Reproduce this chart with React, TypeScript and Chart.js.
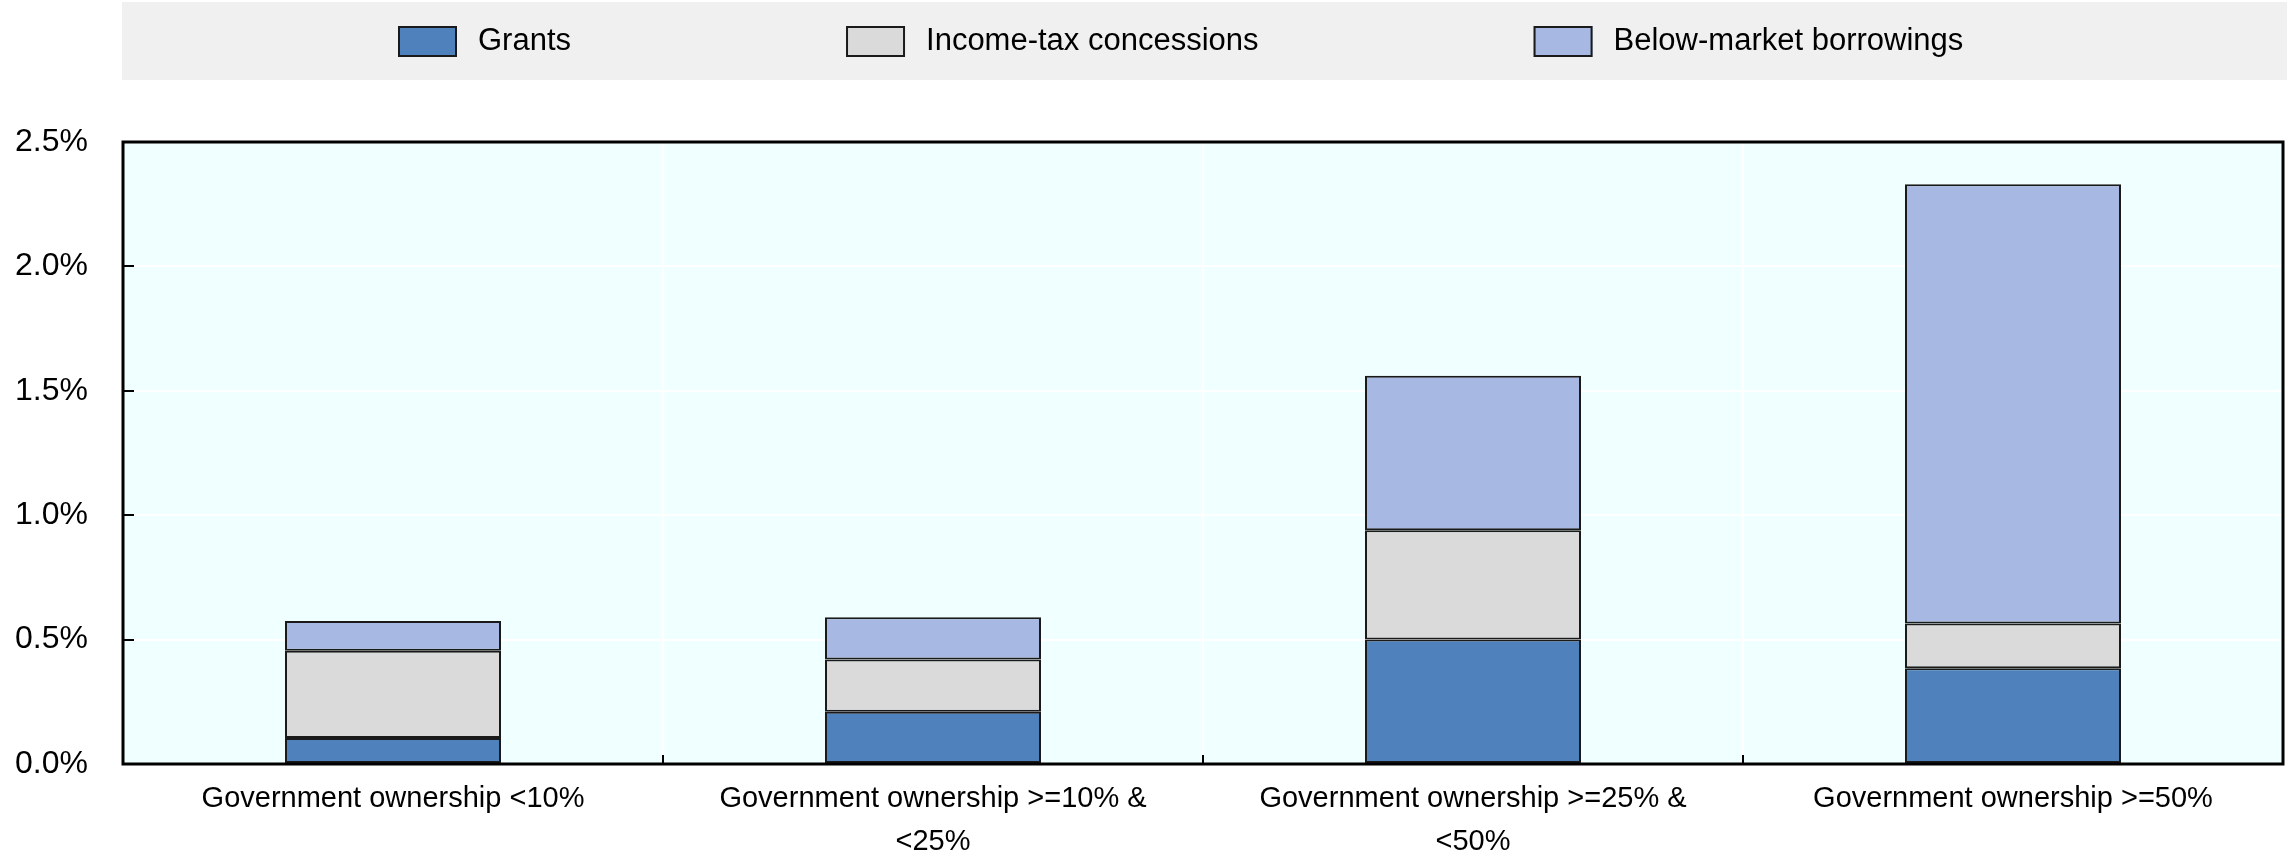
import React, { useEffect, useRef } from "react";
import { Chart, registerables } from "chart.js";

Chart.register(...registerables);

const CATEGORIES: string[][] = [
  ["Government ownership <10%"],
  ["Government ownership >=10% &", "<25%"],
  ["Government ownership >=25% &", "<50%"],
  ["Government ownership >=50%"],
];
const GRANTS = [0.105, 0.21, 0.5, 0.385];
const INCOME_TAX = [0.35, 0.21, 0.44, 0.18];
const BELOW_MARKET = [0.12, 0.17, 0.62, 1.765];
const SERIES_NAMES = ["Grants", "Income-tax concessions", "Below-market borrowings"];
const SERIES_COLORS = ["#4F81BD", "#DADADA", "#A7B9E2"];
const Y_MIN = 0;
const Y_MAX = 2.5;
const Y_STEP = 0.5;

const FONT_FAMILY = '"Liberation Sans", Arial, sans-serif';
const X_FONT_SIZE = 29;
const Y_FONT_SIZE = 32;
const LEGEND_FONT_SIZE = 31;

const bgPlugin = {
  id: "bgPlugin",
  beforeDraw(chart: any) {
    const { ctx, chartArea } = chart;
    ctx.save();
    ctx.fillStyle = "#F0FFFF";
    ctx.fillRect(chartArea.left, chartArea.top, chartArea.right - chartArea.left, chartArea.bottom - chartArea.top);
    ctx.restore();
  },
};

const framePlugin = {
  id: "framePlugin",
  afterDatasetsDraw(chart: any) {
    const { ctx, chartArea } = chart;
    const x = chart.scales.x;
    const y = chart.scales.y;
    ctx.save();
    ctx.strokeStyle = "#000";
    ctx.lineWidth = 3;
    ctx.strokeRect(chartArea.left, chartArea.top, chartArea.right - chartArea.left, chartArea.bottom - chartArea.top);
    ctx.lineWidth = 2;
    ctx.beginPath();
    y.ticks.forEach((t: any) => {
      if (t.value <= Y_MIN || t.value >= Y_MAX) return;
      const py = Math.round(y.getPixelForValue(t.value));
      ctx.moveTo(chartArea.left, py);
      ctx.lineTo(chartArea.left + 11, py);
    });
    for (let i = 0; i < CATEGORIES.length - 1; i++) {
      const px = Math.round((x.getPixelForValue(i) + x.getPixelForValue(i + 1)) / 2);
      ctx.moveTo(px, chartArea.bottom);
      ctx.lineTo(px, chartArea.bottom - 9);
    }
    ctx.stroke();
    ctx.restore();
  },
};

const legendPlugin = {
  id: "legendPlugin",
  afterDraw(chart: any) {
    const { ctx, chartArea } = chart;
    ctx.save();
    ctx.fillStyle = "#F0F0F0";
    ctx.fillRect(chartArea.left - 1, 2, chartArea.right - chartArea.left + 5, 78);
    ctx.font = `${LEGEND_FONT_SIZE}px ${FONT_FAMILY}`;
    ctx.textBaseline = "middle";
    ctx.textAlign = "left";
    let cx = 398;
    chart.data.datasets.forEach((ds: any) => {
      ctx.fillStyle = ds.backgroundColor;
      ctx.fillRect(cx, 26, 59, 31);
      ctx.strokeStyle = "#1a1a1a";
      ctx.lineWidth = 2;
      ctx.strokeRect(cx + 1, 27, 57, 29);
      ctx.fillStyle = "#000";
      ctx.fillText(ds.label, cx + 80, 41);
      const w = ctx.measureText(ds.label).width;
      cx += 59 + 21 + w + 275;
    });
    ctx.restore();
  },
};

export default function App() {
  const ref = useRef<HTMLCanvasElement | null>(null);
  useEffect(() => {
    if (!ref.current) return;
    const mk = (i: number, data: number[]) => ({
      label: SERIES_NAMES[i],
      data,
      backgroundColor: SERIES_COLORS[i],
      borderColor: "#1a1a1a",
      borderWidth: 2,
      borderSkipped: false,
      categoryPercentage: 0.4,
      barPercentage: 1.0,
    });
    const chart = new Chart(ref.current, {
      type: "bar",
      data: {
        labels: CATEGORIES,
        datasets: [mk(0, GRANTS), mk(1, INCOME_TAX), mk(2, BELOW_MARKET)],
      },
      options: {
        animation: false,
        responsive: false,
        devicePixelRatio: 1,
        layout: { padding: { top: 142, right: 12, left: 0, bottom: 0 } },
        plugins: { legend: { display: false }, tooltip: { enabled: false } },
        scales: {
          x: {
            stacked: true,
            grid: { color: "#FFFFFF", lineWidth: 2, drawTicks: false, offset: true },
            border: { display: false },
            ticks: {
              color: "#000",
              padding: 13,
              maxRotation: 0,
              autoSkip: false,
              font: { family: FONT_FAMILY, size: X_FONT_SIZE, lineHeight: 1.5 },
            },
            afterFit: (s: any) => {
              s.height = 95;
            },
          },
          y: {
            stacked: true,
            min: Y_MIN,
            max: Y_MAX,
            grid: { color: "#FFFFFF", lineWidth: 2, drawTicks: false },
            border: { display: false },
            ticks: {
              stepSize: Y_STEP,
              color: "#000",
              padding: 35,
              font: { family: FONT_FAMILY, size: Y_FONT_SIZE },
              callback: (v: any) => Number(v).toFixed(1) + "%",
            },
            afterFit: (s: any) => {
              s.width = 123;
            },
          },
        },
      },
      plugins: [bgPlugin, framePlugin, legendPlugin],
    });
    return () => chart.destroy();
  }, []);
  return (
    <div style={{ position: "absolute", left: 0, top: 0, width: 2295, height: 859, background: "#fff" }}>
      <canvas ref={ref} width={2295} height={859} style={{ display: "block" }} />
    </div>
  );
}
